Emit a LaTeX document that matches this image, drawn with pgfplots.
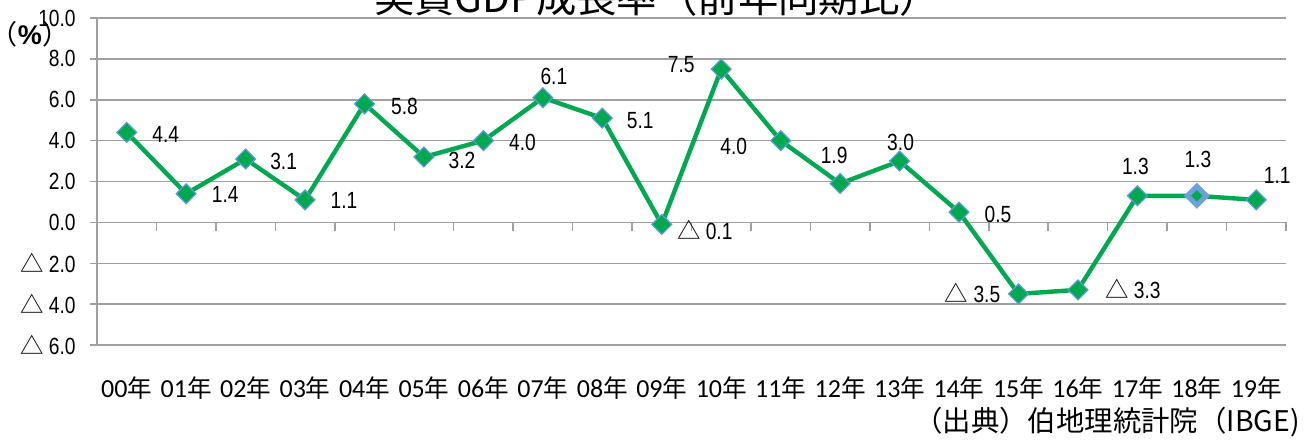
\documentclass[border=0pt]{standalone}
\usepackage{pgfplots}
\pgfplotsset{compat=1.18}
\usepackage{pgfplotstable}
\usepackage{fontspec}
\setmainfont{Liberation Sans}[FakeStretch=0.82]
\newfontfamily\cjk{Noto Sans CJK JP}
\newfontfamily\arial{Liberation Sans}
\newfontfamily\calib{Carlito}
\definecolor{lgreen}{RGB}{0,168,80}
\definecolor{lblue}{RGB}{91,155,213}
\definecolor{mblue}{RGB}{110,160,220}
\definecolor{gridgray}{RGB}{160,160,160}
\newcommand{\yl}[1]{{\calib\fontsize{13}{14}\selectfont #1}{\cjk 年}}
\newcommand{\tri}{{\cjk △}\ }
\pgfplotstableread{
x y lab dx dy
0 4.4 4.4 19.5 -1
1 1.4 1.4 19.5 -0.5
2 3.1 3.1 19 -1
3 1.1 1.1 19.5 -0.5
4 5.8 5.8 20 -1.5
5 3.2 3.2 19 -1.5
6 4.0 4.0 19.5 -1
7 6.1 6.1 5.5 10.5
8 5.1 5.1 19 -1
9 -0.1 \tri0.1 21.5 -3
10 7.5 7.5 -20 2.5
11 4.0 4.0 -23.5 -3
12 1.9 1.9 -3 14
13 3.0 3.0 0.5 9.5
14 0.5 0.5 19.5 -1
15 -3.5 \tri3.5 -23 0.5
16 -3.3 \tri3.3 27.5 0.5
17 1.3 1.3 -1 14.5
18 1.3 1.3 0.5 18
19 1.1 1.1 10.5 12
}\data
\begin{document}
\begin{tikzpicture}[x=1pt,y=1pt]
\useasboundingbox (0,0) rectangle (655,220.5);
\begin{axis}[
  at={(48.5pt,48pt)}, anchor=south west,
  scale only axis, width=594.5pt, height=163.5pt,
  xmin=-0.5, xmax=19.5, ymin=-6, ymax=10,
  clip=false,
  axis x line*=bottom, axis y line*=left,
  axis line style={draw=gridgray, line width=0.75pt},
  ymajorgrids, grid style={draw=gridgray, line width=0.75pt},
  ytick={-6,-4,...,10},
  yticklabels={{\tri6.0},{\tri4.0},{\tri2.0},0.0,2.0,4.0,6.0,8.0,10.0},
  xtick={0,...,19},
  xticklabels={\yl{00},\yl{01},\yl{02},\yl{03},\yl{04},\yl{05},\yl{06},\yl{07},\yl{08},\yl{09},\yl{10},\yl{11},\yl{12},\yl{13},\yl{14},\yl{15},\yl{16},\yl{17},\yl{18},\yl{19}},
  xtick style={draw=none},
  ytick style={draw=gridgray, line width=0.75pt},
  tick align=outside, major tick length=3.5pt,
  yticklabel style={font=\fontsize{11.7}{12}\selectfont, anchor=east, inner sep=0pt, xshift=-7pt},
  xticklabel style={font=\fontsize{12.3}{13}\selectfont, anchor=base, inner sep=0pt, yshift=-22.5pt},
]
\pgfplotsinvokeforeach{-0.5,0.5,...,19.5}{\draw[gridgray, line width=0.75pt] (axis cs:#1,0) -- ([yshift=-4.5pt]axis cs:#1,0);}
\addplot[
  line width=2.2pt, color=lgreen,
  mark=square*, mark size=3.5pt,
  mark options={rotate=45, fill=lgreen, draw=lblue, line width=0.6pt},
  visualization depends on={\thisrow{dx}\as\dx},
  visualization depends on={\thisrow{dy}\as\dy},
  point meta=explicit symbolic,
  nodes near coords,
  every node near coord/.append style={anchor=center, xshift=\dx pt, yshift=\dy pt, font=\fontsize{11.7}{12}\selectfont, text=black, inner sep=0pt},
] table[x=x,y=y,meta=lab]{\data};
\addplot[only marks, mark=square*, mark size=4.4pt, mark options={rotate=45, fill=mblue, draw=mblue}] coordinates {(18,1.3)};
\addplot[only marks, mark=square*, mark size=1.8pt, mark options={rotate=45, fill=lgreen, draw=lgreen}] coordinates {(18,1.3)};
\end{axis}
\node[anchor=base, inner sep=0pt, font=\cjk\fontsize{20.2}{21}\selectfont] at (328.5,214.5) {実質GDP成長率（前年同期比）};
\node[inner sep=0pt, font=\cjk\fontsize{13.5}{14}\selectfont] at (15,203.5) {（{\arial\bfseries\%}）};
\node[anchor=base east, inner sep=0pt, font=\cjk\fontsize{14.2}{15}\selectfont] at (650,5) {（出典）伯地理統計院（IBGE)};
\end{tikzpicture}
\end{document}
